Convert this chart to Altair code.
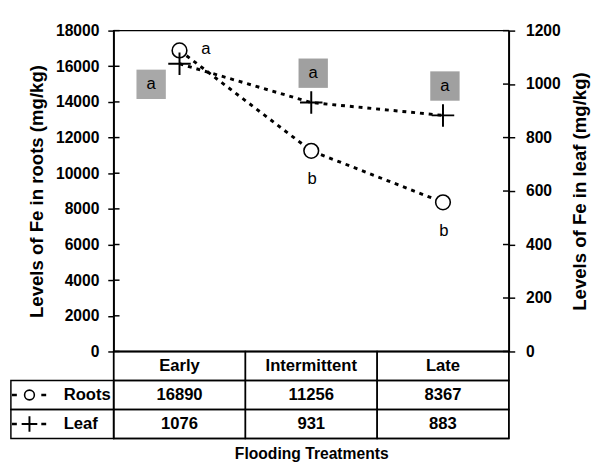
import altair as alt
import pandas as pd

# ---- data ----
treatments = ["Early", "Intermittent", "Late"]
roots = [16890, 11256, 8367]
leaf = [1076, 931, 883]
roots_letters = ["a", "b", "b"]
leaf_letters = ["a", "a", "a"]
series_names = ["Roots", "Leaf"]
roots_ticks = list(range(0, 18001, 2000))
leaf_ticks = list(range(0, 1201, 200))

FONT = "Liberation Sans"
N = len(treatments)

df = pd.DataFrame({
    "treatment": treatments,
    "pos": [i + 0.5 for i in range(N)],
    "roots": roots,
    "leaf": leaf,
    "rl": roots_letters,
    "ll": leaf_letters,
})
rt_df = pd.DataFrame({"roots": roots_ticks})
lt_df = pd.DataFrame({"leaf": leaf_ticks})

W, H = 404, 328

x_top = alt.X("pos:Q", scale=alt.Scale(domain=[0, N]), axis=None)
y_roots = alt.Y(
    "roots:Q",
    scale=alt.Scale(domain=[0, 18000]),
    axis=alt.Axis(title="Levels of Fe in roots (mg/kg)", values=roots_ticks,
                  format="d", orient="left", labelPadding=9, titlePadding=9),
)
y_leaf = alt.Y(
    "leaf:Q",
    scale=alt.Scale(domain=[0, 1200]),
    axis=alt.Axis(title="Levels of Fe in leaf  (mg/kg)", values=leaf_ticks,
                  format="d", orient="right", labelPadding=11, titlePadding=11,
                  titleAngle=270, titleBaseline="top"),
)

base = alt.Chart(df)
is_early = alt.datum.treatment == treatments[0]
not_early = alt.datum.treatment != treatments[0]

dash = [4, 5]

# inner halves of the crossing tick marks
roots_inticks = alt.Chart(rt_df).mark_rule(color="black", strokeWidth=1.5).encode(
    x=alt.value(0), x2=alt.value(6), y=y_roots)
leaf_inticks = alt.Chart(lt_df).mark_rule(color="black", strokeWidth=1.5).encode(
    x=alt.value(W - 6), x2=alt.value(W), y=y_leaf)

roots_line = base.mark_line(color="black", strokeDash=dash, strokeWidth=3).encode(x=x_top, y=y_roots)
roots_pts = base.mark_point(shape="circle", filled=True, fill="white", stroke="black",
                            strokeWidth=1.6, size=225, opacity=1).encode(x=x_top, y=y_roots)
roots_lab1 = base.transform_filter(is_early).mark_text(
    font=FONT, fontSize=17, dx=27, dy=-1, color="black").encode(x=x_top, y=y_roots, text="rl:N")
roots_lab2 = base.transform_filter(not_early).mark_text(
    font=FONT, fontSize=17, dx=1, dy=29, color="black").encode(x=x_top, y=y_roots, text="rl:N")

cross = "M-1,0L1,0M0,-1L0,1"
leaf_line = base.mark_line(color="black", strokeDash=dash, strokeWidth=3).encode(x=x_top, y=y_leaf)
leaf_pts = base.mark_point(shape=cross, filled=False, stroke="black", strokeWidth=2,
                           size=529, opacity=1).encode(x=x_top, y=y_leaf)
box1 = base.transform_filter(is_early).mark_square(
    size=900, color="#a8a8a8", opacity=1, xOffset=-29, yOffset=21).encode(x=x_top, y=y_leaf)
box2 = base.transform_filter(not_early).mark_square(
    size=900, color="#a0a0a0", opacity=1, xOffset=2, yOffset=-30).encode(x=x_top, y=y_leaf)
boxt1 = base.transform_filter(is_early).mark_text(
    font=FONT, fontSize=17, color="black", xOffset=-29, yOffset=21).encode(x=x_top, y=y_leaf, text="ll:N")
boxt2 = base.transform_filter(not_early).mark_text(
    font=FONT, fontSize=17, color="black", xOffset=2, yOffset=-30).encode(x=x_top, y=y_leaf, text="ll:N")

roots_layer = alt.layer(roots_inticks, roots_line, roots_pts, roots_lab1, roots_lab2)
leaf_layer = alt.layer(leaf_inticks, leaf_line, box1, box2, boxt1, boxt2, leaf_pts)
top = alt.layer(roots_layer, leaf_layer).resolve_scale(y="independent").properties(width=W, height=H)

# ---- data table below the plot ----
LABEL_X0 = -0.78
cells = []
for i, t in enumerate(treatments):
    cells.append({"x": i, "x2": i + 1, "y": 0, "y2": 1, "text": t})
    cells.append({"x": i, "x2": i + 1, "y": 1, "y2": 2, "text": str(roots[i])})
    cells.append({"x": i, "x2": i + 1, "y": 2, "y2": 3, "text": str(leaf[i])})
for r, name in enumerate(series_names):
    cells.append({"x": LABEL_X0, "x2": 0, "y": r + 1, "y2": r + 2, "text": ""})
cells_df = pd.DataFrame(cells)
cells_df["xc"] = (cells_df["x"] + cells_df["x2"]) / 2
cells_df["yc"] = (cells_df["y"] + cells_df["y2"]) / 2

legend_df = pd.DataFrame({
    "name": series_names,
    "yc": [1.5, 2.5],
    "lx0": [-0.772] * 2,
    "lx1": [-0.512] * 2,
    "sx": [-0.639] * 2,
    "tx": [-0.379] * 2,
})

x_tab_scale = alt.Scale(domain=[0, N])
y_tab_scale = alt.Scale(domain=[0, 3], reverse=True)
x_tab_axis = alt.Axis(title="Flooding Treatments", labels=False, ticks=False, domain=False,
                      titleFontSize=16, titlePadding=7, orient="bottom")

rects = alt.Chart(cells_df).mark_rect(fillOpacity=0, stroke="black", strokeWidth=1.5).encode(
    x=alt.X("x:Q", scale=x_tab_scale, axis=x_tab_axis), x2="x2:Q",
    y=alt.Y("y:Q", scale=y_tab_scale, axis=None), y2="y2:Q")
texts = alt.Chart(cells_df).mark_text(font=FONT, fontSize=17, fontWeight="bold", color="black").encode(
    x=alt.X("xc:Q", scale=x_tab_scale), y=alt.Y("yc:Q", scale=y_tab_scale), text="text:N")

leg = alt.Chart(legend_df)
leg_rule = leg.mark_rule(color="black", strokeWidth=2.5, strokeDash=[5, 25]).encode(
    x=alt.X("lx0:Q", scale=x_tab_scale), x2="lx1:Q", y=alt.Y("yc:Q", scale=y_tab_scale))
leg_circle = leg.transform_filter(alt.datum.name == series_names[0]).mark_point(
    shape="circle", filled=True, fill="white", stroke="black", strokeWidth=1.6, size=100, opacity=1).encode(
    x=alt.X("sx:Q", scale=x_tab_scale), y=alt.Y("yc:Q", scale=y_tab_scale))
leg_cross = leg.transform_filter(alt.datum.name == series_names[1]).mark_point(
    shape=cross, filled=False, stroke="black", strokeWidth=2, size=256, opacity=1).encode(
    x=alt.X("sx:Q", scale=x_tab_scale), y=alt.Y("yc:Q", scale=y_tab_scale))
leg_text = leg.mark_text(font=FONT, fontSize=17, fontWeight="bold", color="black", align="left").encode(
    x=alt.X("tx:Q", scale=x_tab_scale), y=alt.Y("yc:Q", scale=y_tab_scale), text="name:N")

table = alt.layer(rects, texts, leg_rule, leg_circle, leg_cross, leg_text).properties(width=W, height=89)

chart = alt.vconcat(top, table, spacing=0, bounds="flush").properties(
    padding={"left": 1, "top": 9, "right": 1, "bottom": 1}
).configure_view(
    stroke="black", strokeWidth=1.5
).configure_axis(
    labelFont=FONT, labelFontSize=16, labelFontWeight="bold", labelColor="black",
    titleFont=FONT, titleFontSize=19, titleFontWeight="bold", titleColor="black",
    domainColor="black", domainWidth=1.5, tickColor="black", tickWidth=1.5, tickSize=6,
    grid=False,
)

chart.save("out.html", embed_options={"renderer": "svg", "actions": False})
